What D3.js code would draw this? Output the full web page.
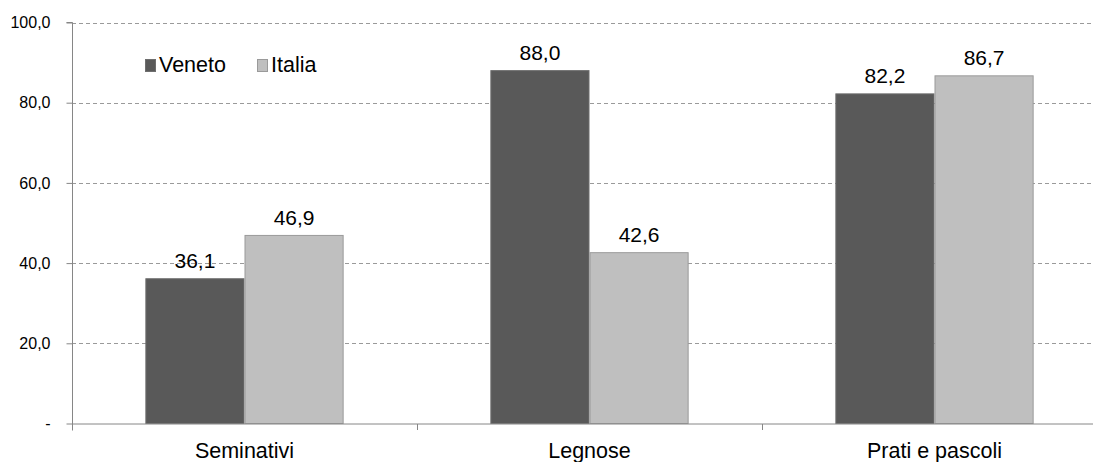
<!DOCTYPE html>
<html>
<head>
<meta charset="utf-8">
<script src="https://cdn.jsdelivr.net/npm/d3@7"></script>
<style>
  body { margin: 0; background: #fff; }
  svg { display: block; font-family: "Liberation Sans", Arial, sans-serif; }
</style>
</head>
<body>
<svg id="chart" width="1093" height="462"></svg>
<script>
// Quota percentuale per tipo di coltura
const categories = ["Seminativi", "Legnose", "Prati e pascoli"];
const seriesNames = ["Veneto", "Italia"];
const veneto = [36.1, 88.0, 82.2];
const italia = [46.9, 42.6, 86.7];
const yTicks = [0, 20, 40, 60, 80, 100];

const colors = { "Veneto": "#595959", "Italia": "#bfbfbf" };
const strokes = { "Veneto": "#6e6e6e", "Italia": "#9a9a9a" };

const svg = d3.select("#chart");
const plotLeft = 72, plotTop = 22.5, plotBottom = 423.5, plotRight = 1107;

const x0 = d3.scaleBand().domain(categories).range([plotLeft, plotRight]).paddingInner(0).paddingOuter(0);
const x1 = d3.scaleBand().domain(seriesNames).range([0, x0.bandwidth()]).paddingOuter(0.74).paddingInner(0);
const y = d3.scaleLinear().domain([0, 100]).range([plotBottom, plotTop]);

const fmt = v => v === 0 ? "-" : d3.format(".1f")(v).replace(".", ",");

// gridlines
svg.append("g").selectAll("line").data(yTicks.filter(t => t > 0)).join("line")
  .attr("x1", plotLeft).attr("x2", plotRight)
  .attr("y1", d => Math.round(y(d)) + 0.5).attr("y2", d => Math.round(y(d)) + 0.5)
  .attr("stroke", "#9a9a9a").attr("stroke-width", 1).attr("stroke-dasharray", "4,3");

// bars
const rows = categories.map((c, i) => ({ cat: c, values: [
  { s: "Veneto", v: veneto[i] }, { s: "Italia", v: italia[i] } ] }));

const groups = svg.append("g").selectAll("g").data(rows).join("g")
  .attr("transform", d => `translate(${x0(d.cat)},0)`);

groups.selectAll("rect").data(d => d.values).join("rect")
  .attr("x", d => x1(d.s) + 0.5)
  .attr("y", d => y(d.v))
  .attr("width", x1.bandwidth() - 1)
  .attr("height", d => plotBottom - y(d.v))
  .attr("fill", d => colors[d.s])
  .attr("stroke", d => strokes[d.s])
  .attr("stroke-width", 1);

groups.selectAll("text").data(d => d.values).join("text")
  .attr("x", d => x1(d.s) + x1.bandwidth() / 2)
  .attr("y", d => y(d.v) - 10.5)
  .attr("text-anchor", "middle")
  .attr("font-size", 21)
  .attr("fill", "#000")
  .text(d => fmt(d.v));

// y axis
const yAxis = d3.axisLeft(y).tickValues(yTicks).tickSize(6).tickPadding(16).tickFormat(fmt);
const gy = svg.append("g").attr("transform", `translate(${plotLeft + 0.5},0)`).call(yAxis);
gy.select(".domain").attr("stroke", "#868686").attr("d", `M-6,${plotTop}H0V${plotBottom + 7}`);
gy.selectAll(".tick line").attr("stroke", "#868686");
gy.selectAll(".tick text").attr("font-size", 16).attr("fill", "#000")
  .attr("font-family", "\"Liberation Sans\", Arial, sans-serif");

// x axis
const gx = svg.append("g").attr("transform", `translate(0,${plotBottom + 0.5})`);
gx.append("line").attr("x1", plotLeft).attr("x2", plotRight).attr("stroke", "#868686");
gx.selectAll("line.tk").data(categories).join("line").attr("class", "tk")
  .attr("x1", d => x0(d) + 0.5).attr("x2", d => x0(d) + 0.5)
  .attr("y1", 0).attr("y2", 6).attr("stroke", "#868686");
gx.selectAll("text").data(categories).join("text")
  .attr("x", d => x0(d) + x0.bandwidth() / 2)
  .attr("y", 34)
  .attr("text-anchor", "middle")
  .attr("font-size", 21.5)
  .attr("fill", "#000")
  .text(d => d);

// legend
const legend = svg.append("g").attr("transform", "translate(145,59)");
const legX = [0, 112];
seriesNames.forEach((s, i) => {
  const g = legend.append("g").attr("transform", `translate(${legX[i]},0)`);
  g.append("rect").attr("x", 0.5).attr("y", 0.5).attr("width", 10).attr("height", 12)
    .attr("fill", colors[s]).attr("stroke", strokes[s]);
  g.append("text").attr("x", 14).attr("y", 13).attr("font-size", 21.5).attr("fill", "#000").text(s);
});
</script>
</body>
</html>
